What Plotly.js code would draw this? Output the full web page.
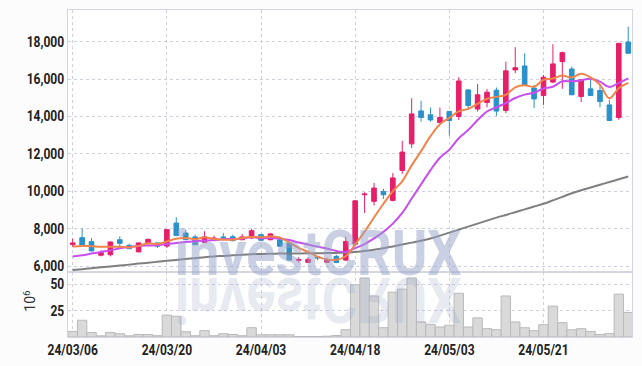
<!DOCTYPE html>
<html>
<head>
<meta charset="utf-8">
<script src="https://cdn.plot.ly/plotly-3.0.1.min.js"></script>
<style>
  html, body { margin: 0; padding: 0; background: #fcfcfc; }
  #chart { width: 642px; height: 366px; }
</style>
</head>
<body>
<div id="chart"></div>
<script>
const dates = ['24/03/06','24/03/07','24/03/08','24/03/11','24/03/12','24/03/13','24/03/14','24/03/15','24/03/18','24/03/19',
  '24/03/20','24/03/21','24/03/22','24/03/25','24/03/26','24/03/27','24/03/28','24/03/29','24/04/01','24/04/02',
  '24/04/03','24/04/04','24/04/05','24/04/08','24/04/09','24/04/11','24/04/12','24/04/15','24/04/16','24/04/17',
  '24/04/18','24/04/19','24/04/22','24/04/23','24/04/24','24/04/25','24/04/26','24/04/29','24/04/30','24/05/02',
  '24/05/03','24/05/07','24/05/08','24/05/09','24/05/10','24/05/13','24/05/14','24/05/16','24/05/17','24/05/20',
  '24/05/21','24/05/22','24/05/23','24/05/24','24/05/27','24/05/28','24/05/29','24/05/30','24/05/31','24/06/03'];

const openP = [7160,7530,7320,6590,6620,7420,7120,6770,7230,7250, 7080,8310,7780,7570,7280,7420,7570,7580,7420,7510,
  7690,7420,7420,7250,6320,6210,6500,6220,6530,6330, 7180,9820,9470,10000,9520,11120,12540,14300,14090,13680,
  14270,14000,15420,14400,14750,15410,14320,16490,16700,15520, 15120,15840,16930,16540,15070,15480,15390,14620,13950,17980];
const highP = [7480,8030,7510,6850,7320,7600,7210,7280,7480,7280, 7970,8620,7960,7690,7870,7640,7770,7690,7730,8010,
  7740,7780,7600,7260,6490,6480,6530,6450,6610,7580, 9530,9950,10450,10140,10980,12700,14980,14840,14480,14480,
  14290,16100,15460,15730,15460,15550,16930,17700,17380,15690, 16220,17860,17470,16670,15980,16000,15640,14890,17930,18800];
const lowP = [7040,7100,6800,6530,6530,6980,6920,6750,7160,6980, 6980,7620,7410,7150,7250,7330,7370,7330,7390,7460,
  7370,7390,7050,6320,6200,6180,6320,6180,6180,6280, 7100,8850,9250,9600,9470,10940,12320,13730,13730,13650,
  12970,13820,14360,14270,14500,14040,14180,16320,15680,14450, 14620,15780,15480,15140,14770,15110,14500,13780,13820,17370];
const closeP = [7250,7120,6820,6750,7300,7230,6940,7250,7440,7070, 7960,7640,7420,7150,7570,7510,7510,7370,7570,7900,
  7390,7730,7070,6330,6360,6370,6450,6360,6200,7330, 9500,9860,10180,9820,10720,12100,14140,13950,13820,13950,
  13790,15900,14590,15160,15300,14290,16440,16610,15690,14940, 16100,16810,17410,15160,15960,15120,14800,13790,17910,17380];

const ma5 = [7060,7090,7070,7050,7050,7040,7010,7090,7230,7190, 7330,7470,7510,7450,7550,7460,7430,7420,7510,7570,
  7550,7590,7530,7280,6980,6770,6520,6370,6350,6540, 7170,7850,8610,9340,10020,10540,11390,12150,12950,13590,
  13930,14280,14410,14680,14950,15050,15160,15560,15670,15590, 15960,16030,16190,16080,16290,16090,15690,14970,15520,15800];
const ma10 = [6520,6590,6680,6770,6850,6960,7030,7090,7110,7120, 7190,7240,7300,7340,7370,7400,7450,7460,7480,7560,
  7500,7510,7480,7400,7270,7160,7050,6950,6820,6760, 6970,7180,7490,7840,8280,8850,9620,10380,11140,11800,
  12230,12840,13280,13810,14270,14490,14720,14990,15170,15270, 15500,15590,15880,15880,15940,16020,15860,15580,15800,16040];
const ma60 = [5800,5845,5895,5945,5995,6040,6090,6145,6190,6240, 6290,6340,6390,6435,6485,6525,6555,6585,6620,6645,
  6660,6670,6680,6685,6690,6695,6700,6705,6715,6730, 6770,6820,6890,6970,7060,7160,7265,7370,7490,7640,
  7800,7960,8120,8280,8440,8600,8740,8890,9040,9190, 9340,9520,9710,9900,10060,10210,10360,10500,10650,10800];

const volumeM = [5.3,15.9,4.3,1.1,4.3,3.1,1.1,2.4,2.4,1.2, 20.7,19.7,5.0,1.2,6.0,1.2,3.1,2.4,1.2,8.8,
  2.1,2.1,2.1,2.1,0.5,0.5,0.5,0.8,1.4,6.9, 49.5,56,38.9,8.8,42.5,45.4,56,14.3,12,9.5,
  11.1,41.5,9.5,18.1,7.9,6.9,38.9,14.3,8.8,6.0, 11.7,29.3,13.6,6.9,7.9,5.3,2.4,3.4,40.6,23.3];

const priceTicks = [6000,8000,10000,12000,14000,16000,18000];
const volTicks = [25,50];
const volTickText = ['25','50'];
const dateTicks = ['24/03/06','24/03/20','24/04/03','24/04/18','24/05/03','24/05/21'];

const UP = '#e61f69', DOWN = '#2a91c9';
const tickFont = {family: 'Roboto, sans-serif', size: 14, color: '#222222', weight: 700};
const gridC = '#cfd0e0', lineC = '#d6d6e0';

const data = [
  {type: 'bar', x: dates, y: volumeM, xaxis: 'x', yaxis: 'y2',
   marker: {color: '#d9d9d9', line: {color: '#b9b9b9', width: 1}}, hoverinfo: 'skip'},
  {type: 'candlestick', x: dates, open: openP, high: highP, low: lowP, close: closeP,
   xaxis: 'x', yaxis: 'y', whiskerwidth: 0,
   increasing: {line: {color: UP, width: 1}, fillcolor: UP},
   decreasing: {line: {color: DOWN, width: 1}, fillcolor: DOWN}, hoverinfo: 'skip'},
  {type: 'scatter', mode: 'lines', x: dates, y: ma60, yaxis: 'y', line: {color: '#7f7f7f', width: 2, shape: 'spline'}, hoverinfo: 'skip'},
  {type: 'scatter', mode: 'lines', x: dates, y: ma10, yaxis: 'y', line: {color: '#c84ef0', width: 2, shape: 'spline'}, hoverinfo: 'skip'},
  {type: 'scatter', mode: 'lines', x: dates, y: ma5, yaxis: 'y', line: {color: '#f2844a', width: 2, shape: 'spline'}, hoverinfo: 'skip'}
];

const wmFont = {family: 'Roboto, sans-serif', size: 63, color: 'rgba(150,162,200,0.5)', weight: 700};

const layout = {
  width: 642, height: 366,
  margin: {l: 68, r: 10, t: 10, b: 29},
  paper_bgcolor: '#fcfcfc', plot_bgcolor: '#ffffff',
  showlegend: false, bargap: 0,
  xaxis: {type: 'category', range: [-0.5, 59.4], tickmode: 'array', tickvals: dateTicks, ticktext: dateTicks,
    anchor: 'y2', rangeslider: {visible: false}, showgrid: true, gridcolor: gridC, griddash: 'dot', gridwidth: 1,
    showline: true, mirror: 'all', linecolor: lineC, ticks: '', tickfont: tickFont, zeroline: false},
  yaxis: {domain: [0.2, 1], range: [5717, 19690], tickmode: 'array', tickvals: priceTicks, tickformat: ',d',
    showgrid: true, gridcolor: gridC, griddash: 'dot', showline: true, mirror: true, linecolor: lineC,
    ticks: '', tickfont: tickFont, zeroline: false},
  yaxis2: {domain: [0, 0.2], range: [0, 62], tickmode: 'array', tickvals: volTicks, ticktext: volTickText,
    showticklabels: true, showgrid: true, gridcolor: gridC, griddash: 'dot', showline: true, mirror: true, linecolor: lineC,
    ticks: '', tickfont: tickFont, zeroline: false},
  annotations: [
    {xref: 'paper', yref: 'paper', x: 0.443, y: 0.256, xanchor: 'center', yanchor: 'middle', showarrow: false,
     text: 'investCRUX', font: wmFont},
    {xref: 'paper', yref: 'paper', x: 0.443, y: 0.115, xanchor: 'center', yanchor: 'middle', showarrow: false,
     text: 'investCRUX', font: Object.assign({}, wmFont, {color: 'rgba(150,162,200,0.24)'})},
    {xref: 'paper', yref: 'paper', x: -0.068, y: 0.11, xanchor: 'center', yanchor: 'middle', showarrow: false,
     text: '10<sup>6</sup>', textangle: -90, font: {family: 'Roboto, sans-serif', size: 14, color: '#333'}}
  ]
};

function squeeze(el, ratio) {
  const w = el.getComputedTextLength();
  if (w > 0) {
    el.setAttribute('textLength', (w * ratio).toFixed(1));
    el.setAttribute('lengthAdjust', 'spacingAndGlyphs');
  }
}

Plotly.newPlot('chart', data, layout, {staticPlot: true, displayModeBar: false}).then(function (gd) {
  gd.querySelectorAll('.xtick text, .ytick text, .y2tick text').forEach(function (t) { squeeze(t, 0.86); });
  const anns = gd.querySelectorAll('.annotation');
  for (let k = 0; k < 2 && k < anns.length; k++) {
    const t = anns[k].querySelector('text');
    if (!t) continue;
    const w = t.getComputedTextLength();
    if (w > 0) { t.setAttribute('textLength', 287); t.setAttribute('lengthAdjust', 'spacingAndGlyphs'); }
    if (k === 1) {
      const bb = t.getBBox();
      const cy = bb.y + bb.height / 2;
      t.setAttribute('transform', 'translate(0,' + (2 * cy) + ') scale(1,-1)');
    }
  }
});
</script>
</body>
</html>
